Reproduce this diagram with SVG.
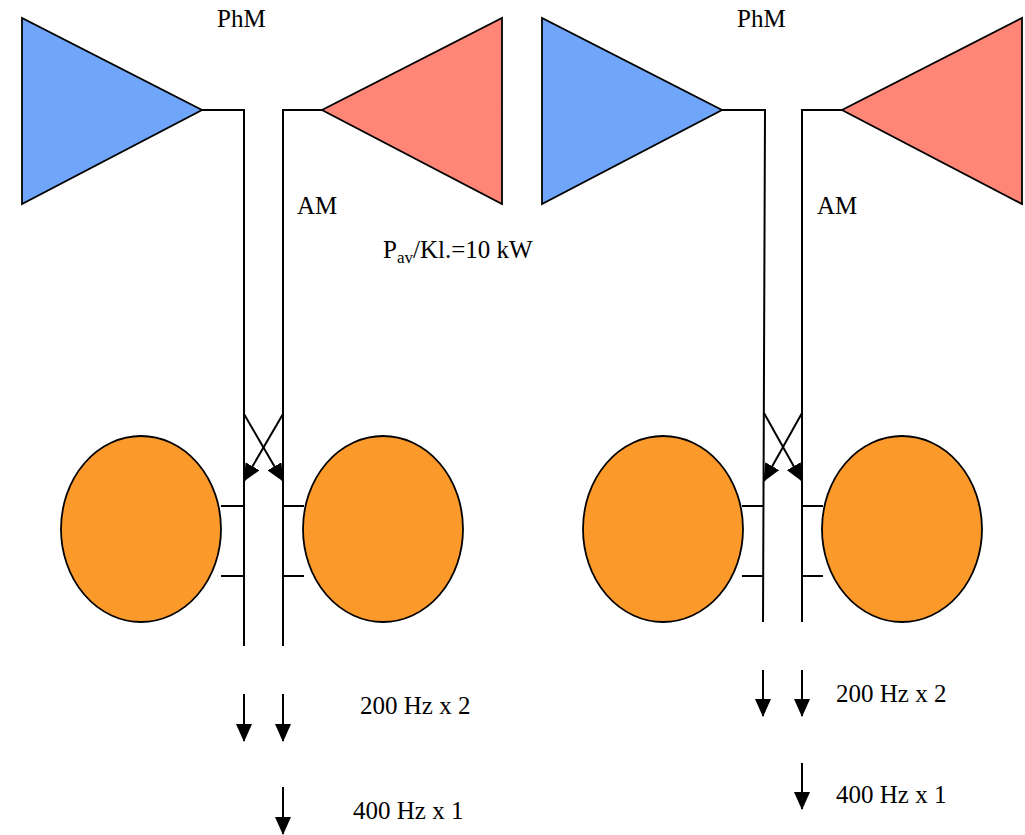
<svg xmlns="http://www.w3.org/2000/svg" width="1025" height="835" viewBox="0 0 1025 835">
<style>
.ln{stroke:#000;stroke-width:2;fill:none}
.tri-b{fill:#70a6f9;stroke:#000;stroke-width:1.8}
.tri-r{fill:#ff8677;stroke:#000;stroke-width:1.8}
.ell{fill:#fb992b;stroke:#000;stroke-width:1.8}
text{font-family:'Liberation Serif','Times New Roman','DejaVu Serif',serif;fill:#000}
.t{font-size:25px}
.ts{font-size:17px}
</style>
<defs>
<marker id="ah" viewBox="0 0 18 16" refX="17" refY="8" markerWidth="18" markerHeight="16" markerUnits="userSpaceOnUse" orient="auto">
<path d="M0,0 L18,8 L0,16 z" fill="#000"/>
</marker>
</defs>
<rect width="1025" height="835" fill="#fff"/>
<g id="left-phm"><polygon class="tri-b" points="22,18 22,204 202,110"/></g>
<g id="left-am"><polygon class="tri-r" points="502,18 502,204 322,110"/></g>
<g id="left-ell1"><ellipse class="ell" cx="141" cy="529" rx="80" ry="93"/></g>
<g id="left-ell2"><ellipse class="ell" cx="383" cy="529" rx="80" ry="93"/></g>
<g id="right-phm"><polygon class="tri-b" points="542,18 542,204 722,110"/></g>
<g id="right-am"><polygon class="tri-r" points="1022,18 1022,204 842,110"/></g>
<g id="right-ell1"><ellipse class="ell" cx="663" cy="529" rx="80" ry="93"/></g>
<g id="right-ell2"><ellipse class="ell" cx="902" cy="529" rx="80" ry="93"/></g>
<g id="connectors">
<polyline class="ln" points="202,110 244,110 244,646"/>
<polyline class="ln" points="322,110 283,110 283,646"/>
<line class="ln" x1="221" y1="506" x2="244" y2="506"/>
<line class="ln" x1="221" y1="576" x2="244" y2="576"/>
<line class="ln" x1="283" y1="506" x2="304" y2="506"/>
<line class="ln" x1="283" y1="576" x2="304" y2="576"/>
<line class="ln" x1="244" y1="414" x2="283" y2="481" marker-end="url(#ah)"/>
<line class="ln" x1="283" y1="414" x2="244" y2="481" marker-end="url(#ah)"/>
<line class="ln" x1="244" y1="694" x2="244" y2="741" marker-end="url(#ah)"/>
<line class="ln" x1="283" y1="694" x2="283" y2="741" marker-end="url(#ah)"/>
<line class="ln" x1="283" y1="787" x2="283" y2="834" marker-end="url(#ah)"/>
<polyline class="ln" points="722,110 765,110 763,622"/>
<polyline class="ln" points="842,110 802,110 802,622"/>
<line class="ln" x1="742" y1="506" x2="763" y2="506"/>
<line class="ln" x1="742" y1="576" x2="763" y2="576"/>
<line class="ln" x1="802" y1="506" x2="823" y2="506"/>
<line class="ln" x1="802" y1="576" x2="823" y2="576"/>
<line class="ln" x1="764" y1="413" x2="802" y2="481" marker-end="url(#ah)"/>
<line class="ln" x1="802" y1="413" x2="764" y2="481" marker-end="url(#ah)"/>
<line class="ln" x1="763" y1="670" x2="763" y2="716" marker-end="url(#ah)"/>
<line class="ln" x1="802" y1="670" x2="802" y2="716" marker-end="url(#ah)"/>
<line class="ln" x1="802" y1="763" x2="802" y2="809" marker-end="url(#ah)"/>
</g>
<g id="labels">
<text class="t" x="217" y="27">PhM</text>
<text class="t" x="297" y="214">AM</text>
<text class="t" x="383" y="258">P<tspan class="ts" dy="5">av</tspan><tspan dy="-5">/Kl.=10 kW</tspan></text>
<text class="t" x="360" y="714">200 Hz x 2</text>
<text class="t" x="353" y="819">400 Hz x 1</text>
<text class="t" x="737" y="27">PhM</text>
<text class="t" x="817" y="214">AM</text>
<text class="t" x="836" y="702">200 Hz x 2</text>
<text class="t" x="836" y="803">400 Hz x 1</text>
</g>
</svg>
